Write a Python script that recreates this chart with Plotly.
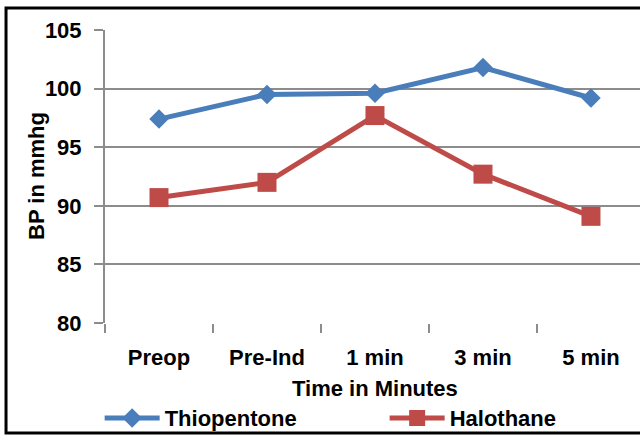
import plotly.graph_objects as go

# Blood pressure over time for two induction agents
time_points = ["Preop", "Pre-Ind", "1 min", "3 min", "5 min"]
thiopentone_bp = [97.4, 99.5, 99.6, 101.8, 99.2]
halothane_bp = [90.7, 92.0, 97.7, 92.7, 89.1]
y_ticks = [80, 85, 90, 95, 100, 105]

FONT = "Liberation Sans"
SIZE = 22
GRID = "#8c8c8c"
bold = dict(family=FONT, size=SIZE, color="black", weight="bold")

fig = go.Figure()
fig.add_trace(go.Scatter(
    x=time_points, y=thiopentone_bp, name="Thiopentone",
    mode="lines+markers",
    line=dict(color="#4a7ebb", width=5),
    marker=dict(symbol="diamond", size=15, color="#4a7ebb"),
    legend="legend",
))
fig.add_trace(go.Scatter(
    x=time_points, y=halothane_bp, name="Halothane",
    mode="lines+markers",
    line=dict(color="#be4b48", width=5),
    marker=dict(symbol="square", size=19, color="#be4b48"),
    legend="legend2",
))

legend_common = dict(
    orientation="h", yanchor="middle", y=-0.3245, xanchor="left",
    font=bold, itemwidth=55, bgcolor="rgba(0,0,0,0)",
)

fig.update_layout(
    width=640, height=437,
    margin=dict(l=105, r=0, t=30, b=114, autoexpand=False),
    paper_bgcolor="white", plot_bgcolor="white",
    font=dict(family=FONT, size=SIZE, color="black"),
    showlegend=True,
    legend=dict(x=-0.01, **legend_common),
    legend2=dict(x=0.5227, **legend_common),
    xaxis=dict(
        type="category", range=[-0.5, 4.454],
        showgrid=False, showline=False, zeroline=False,
        ticks="outside", tickson="boundaries", ticklen=9, tickwidth=2, tickcolor=GRID,
        tickfont=bold, ticklabelstandoff=19,
        automargin=False,
    ),
    yaxis=dict(
        range=[80, 105], tickvals=y_ticks,
        showgrid=True, gridcolor=GRID, gridwidth=2,
        showline=True, linecolor=GRID, linewidth=2,
        zeroline=False,
        ticks="outside", ticklen=9, tickwidth=2, tickcolor=GRID,
        tickfont=bold, ticklabelstandoff=8,
        automargin=False,
    ),
    annotations=[
        dict(text="BP in mmhg", xref="paper", yref="paper", x=-0.127, y=0.502,
             xanchor="center", yanchor="middle", textangle=-90, showarrow=False, font=bold),
        dict(text="Time in Minutes", xref="paper", yref="paper", x=0.5045, y=-0.222,
             xanchor="center", yanchor="middle", showarrow=False, font=bold),
    ],
)

# Outer frame around the chart
fig.add_shape(
    type="rect", xref="paper", yref="paper",
    x0=-0.185, x1=1.01, y0=-0.375, y1=1.075,
    line=dict(color="black", width=3), fillcolor="rgba(0,0,0,0)", layer="above",
)

fig.write_html("out.html")
